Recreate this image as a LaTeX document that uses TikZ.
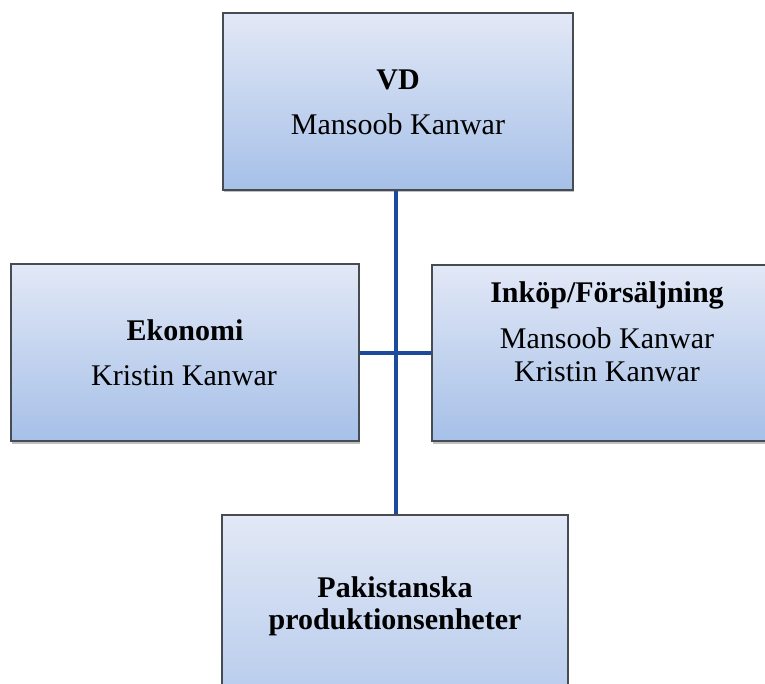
\documentclass[tikz,border=0pt]{standalone}
\usepackage{fontspec}
\setmainfont{Liberation Serif}
\usetikzlibrary{shadows}
\definecolor{boxtop}{HTML}{E2E8F6}
\definecolor{boxbot}{HTML}{A6C0E8}
\definecolor{boxline}{HTML}{474B52}
\definecolor{linkblue}{HTML}{1C4A9C}
\tikzset{
  unitbox/.style={draw=boxline, line width=1.2pt, top color=boxtop,
    bottom color=boxbot, inner sep=0pt, minimum width=350pt,
    drop shadow={shadow xshift=1.2pt, shadow yshift=-2.5pt,
      opacity=0.35, fill=black!70}},
  titletext/.style={font=\fontsize{30}{36}\selectfont\bfseries,
    anchor=base, inner sep=0pt},
  nametext/.style={font=\fontsize{30}{36}\selectfont,
    anchor=base, inner sep=0pt},
  link/.style={draw=linkblue, line width=4.6pt}
}
\begin{document}
\begin{tikzpicture}[x=1pt, y=-1pt]
  \useasboundingbox (0,0) rectangle (765,684);
  \clip (0,0) rectangle (765,684);
  \fill[white] (0,0) rectangle (765,684);

  % boxes
  \node[unitbox, minimum height=177pt] (vd)   at (398,101.5) {};
  \node[unitbox, minimum height=177pt, minimum width=348pt] (eko)  at (185,352.5) {};
  \node[unitbox, minimum height=176pt] (ink)  at (607,353) {};
  \node[unitbox, minimum height=260pt, minimum width=346pt] (prod) at (395,645) {};

  % connectors
  \coordinate (hub) at (396,353);
  \draw[link] (vd.south -| hub) -- (prod.north -| hub);
  \draw[link] (eko.east |- hub) -- (ink.west |- hub);

  % labels
  \node[titletext] (vdt)  at (398,90)  {VD};
  \node[nametext]  (vdn)  at (398,135) {Mansoob Kanwar};

  \node[titletext] (ekot) at (185,340) {Ekonomi};
  \node[nametext]  (ekon) at (184,385) {Kristin Kanwar};

  \node[titletext] (inkt)  at (607,303) {Inköp/Försäljning};
  \node[nametext]  (inkn1) at (607,348) {Mansoob Kanwar};
  \node[nametext]  (inkn2) at (607,381) {Kristin Kanwar};

  \node[titletext] (prodt1) at (395,597) {Pakistanska};
  \node[titletext] (prodt2) at (395,629) {produktionsenheter};
\end{tikzpicture}
\end{document}
